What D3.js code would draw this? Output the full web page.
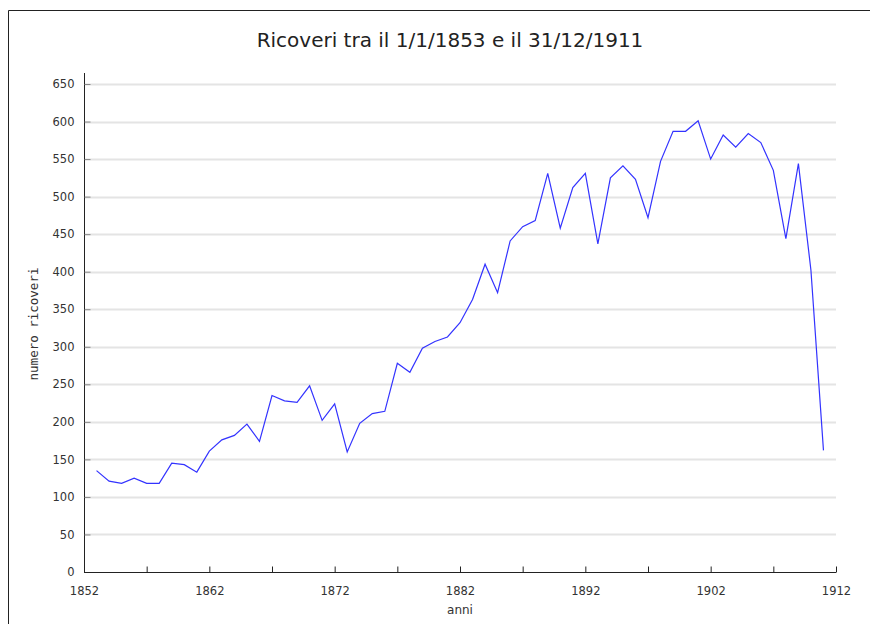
<!DOCTYPE html>
<html>
<head>
<meta charset="utf-8">
<script src="https://cdn.jsdelivr.net/npm/d3@7"></script>
<style>
  body { margin: 0; background: #fff; }
  svg { display: block; }
  .tick text { font-family: Verdana, "DejaVu Sans", sans-serif; font-size: 11.5px; fill: #333; }
</style>
</head>
<body>
<div id="chart"></div>
<script>
// anni e ricoveri
var years = [1853,1854,1855,1856,1857,1858,1859,1860,1861,1862,
             1863,1864,1865,1866,1867,1868,1869,1870,1871,1872,
             1873,1874,1875,1876,1877,1878,1879,1880,1881,1882,
             1883,1884,1885,1886,1887,1888,1889,1890,1891,1892,
             1893,1894,1895,1896,1897,1898,1899,1900,1901,1902,
             1903,1904,1905,1906,1907,1908,1909,1910,1911];
var ricoveri = [135,121,118,125,118,118,145,143,133,161,
                176,182,197,174,235,228,226,248,202,224,
                160,198,211,214,278,266,298,307,313,332,
                363,410,372,441,460,468,531,458,512,531,
                437,525,541,523,472,547,587,587,601,550,
                582,566,584,572,535,444,544,402,162];
var yTicks = [0,50,100,150,200,250,300,350,400,450,500,550,600,650];
var xTicks = [1852,1857,1862,1867,1872,1877,1882,1887,1892,1897,1902,1907,1912];
var xLabels = [1852,1862,1872,1882,1892,1902,1912];

var width = 870, height = 624;
var margin = {top: 84, right: 34, bottom: 52, left: 84};

var svg = d3.select("#chart").append("svg")
    .attr("width", width)
    .attr("height", height);

// cornice
svg.append("path")
    .attr("d", "M8.5,624V10.5H870")
    .attr("fill", "none")
    .attr("stroke", "#222")
    .attr("stroke-width", 1);

var x = d3.scaleLinear().domain([1852, 1912]).range([margin.left, width - margin.right]);
var y = d3.scaleLinear().domain([0, 650]).range([height - margin.bottom, margin.top]);

var data = years.map(function(d, i) { return {anno: d, n: ricoveri[i]}; });

// griglia
svg.append("g").selectAll("line").data(yTicks.slice(1)).enter().append("line")
    .attr("x1", margin.left)
    .attr("x2", width - margin.right)
    .attr("y1", function(d) { return Math.round(y(d)) + 0.5; })
    .attr("y2", function(d) { return Math.round(y(d)) + 0.5; })
    .attr("stroke", "#e4e4e4")
    .attr("stroke-width", 2);

// asse y
var yAxis = svg.append("g")
    .attr("transform", "translate(" + (margin.left + 0.5) + ",0)")
    .call(d3.axisLeft(y).tickValues(yTicks).tickSize(-6).tickPadding(10).tickFormat(d3.format("d")));
yAxis.select(".domain").attr("d", "M0," + (margin.top - 11) + "V" + (height - margin.bottom + 0.5)).attr("stroke", "#222");
yAxis.selectAll(".tick line").attr("stroke", "#888");

// asse x
var xAxis = svg.append("g")
    .attr("transform", "translate(0," + (height - margin.bottom + 0.5) + ")")
    .call(d3.axisBottom(x).tickValues(xTicks).tickSize(-6).tickPadding(14)
        .tickFormat(function(d) { return xLabels.indexOf(d) >= 0 ? d : ""; }));
xAxis.select(".domain").attr("d", "M" + margin.left + ",0H" + (width - margin.right)).attr("stroke", "#222");
xAxis.selectAll(".tick line").attr("stroke", "#222");

// linea
var line = d3.line()
    .x(function(d) { return x(d.anno); })
    .y(function(d) { return y(d.n); });

svg.append("path")
    .datum(data)
    .attr("d", line)
    .attr("fill", "none")
    .attr("stroke", "#3333ff")
    .attr("stroke-width", 1.2);

// titolo ed etichette
svg.append("text")
    .attr("x", 450)
    .attr("y", 47)
    .attr("text-anchor", "middle")
    .style("font-family", "'DejaVu Sans', sans-serif")
    .style("font-size", "20px")
    .style("fill", "#222")
    .text("Ricoveri tra il 1/1/1853 e il 31/12/1911");

svg.append("text")
    .attr("x", (margin.left + width - margin.right) / 2)
    .attr("y", 614)
    .attr("text-anchor", "middle")
    .style("font-family", "Verdana, 'DejaVu Sans', sans-serif")
    .style("font-size", "12px")
    .style("fill", "#333")
    .text("anni");

svg.append("text")
    .attr("transform", "translate(38," + ((margin.top + height - margin.bottom) / 2 - 4) + ") rotate(-90)")
    .attr("text-anchor", "middle")
    .style("font-family", "'DejaVu Sans Mono', monospace")
    .style("font-size", "12.5px")
    .style("fill", "#333")
    .text("numero ricoveri");
</script>
</body>
</html>
